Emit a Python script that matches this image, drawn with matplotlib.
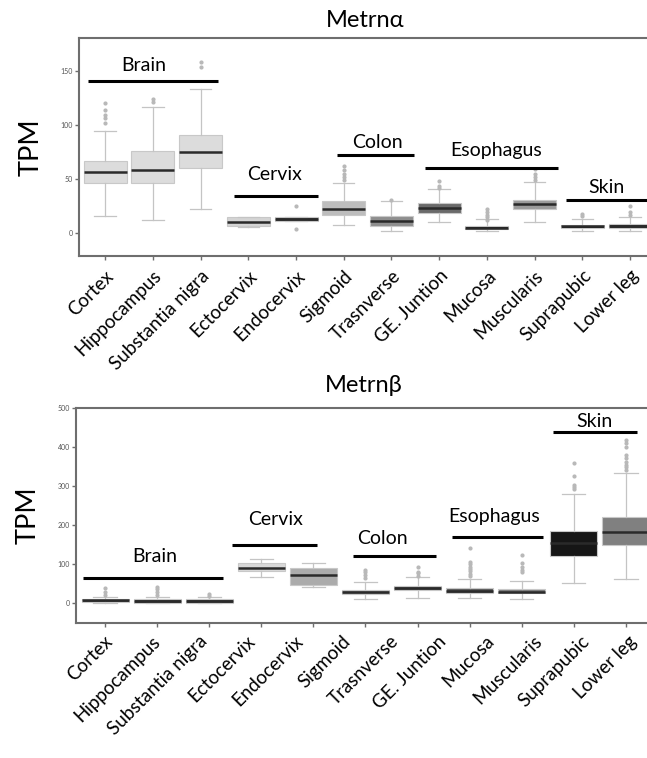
import matplotlib
matplotlib.use("Agg")
import matplotlib.pyplot as plt
import matplotlib.transforms as mtransforms

plt.rcParams['font.family'] = ['Lato', 'DejaVu Sans']

tissues = ["Cortex", "Hippocampus", "Substantia nigra", "Ectocervix", "Endocervix",
           "Sigmoid", "Trasnverse", "GE. Juntion", "Mucosa", "Muscularis",
           "Suprapubic", "Lower leg"]

# ---- Metrn alpha (12 boxes) ----
a_q1 = [46, 46, 60, 6.5, 11.5, 17, 6.5, 19, 4, 22, 4.6, 5]
a_med = [56, 58, 74.5, 10, 12.7, 22, 11, 23, 5, 26.5, 6.2, 7]
a_q3 = [67, 75.5, 90.5, 14.5, 14.5, 30, 15.5, 28, 6.5, 31, 8, 8.7]
a_lo = [15.5, 12.5, 22, 5.5, 11.5, 8, 2.5, 10.5, 2, 10, 2.5, 1.6]
a_hi = [94, 116, 133, 15, 14.5, 46, 30, 41, 13, 47, 13, 15]
a_fl = [[102, 106, 109, 113.5, 120], [121, 123.5], [153, 158], [], [4, 25],
        [49, 52, 55, 58, 62], [31], [42, 44, 48.5], [12, 15, 16.5, 19.5, 22.5],
        [49, 52, 55, 59.5], [15.5, 18], [16.5, 19.5, 25.5]]
a_fill = ["#dcdcdc", "#dcdcdc", "#dcdcdc", "#d4d4d4", "#3a3a3a", "#bdbdbd",
          "#8e8e8e", "#6a6a6a", "#141414", "#9a9a9a", "#141414", "#2e2e2e"]
a_groups = ["Brain", "Cervix", "Colon", "Esophagus", "Skin"]
a_gx0 = [-0.36, 2.70, 4.85, 6.70, 9.65]
a_gx1 = [2.36, 4.47, 6.47, 9.50, 11.45]
a_gy = [140.5, 34, 72.5, 60, 31]
a_tx = [0.80, 3.55, 5.70, 8.20, 10.50]
a_ty = [155, 54, 84, 76.5, 42]

# ---- Metrn beta (11 boxes) ----
b_q1 = [3, 2, 2, 82.5, 47, 23, 34, 25.5, 25.5, 122, 149]
b_med = [8, 6, 6, 89.5, 72, 28, 38, 31.5, 29.5, 153.5, 181.5]
b_q3 = [12, 10, 10, 102, 89.5, 34, 44, 38, 36, 185, 221.5]
b_lo = [0, 0, 0, 66.5, 41, 12, 13, 13, 10, 51, 61]
b_hi = [15, 15, 15, 113, 104, 54.5, 66.5, 62, 57, 280, 334]
b_fl = [[21, 30, 38], [22, 30, 36, 42], [20, 25], [], [],
        [66, 72, 81, 85], [70, 77, 81, 94], [70, 75, 82, 88, 94, 100, 106, 140.5],
        [81, 86, 94, 102, 123.5], [293, 298, 302.5, 326, 358],
        [342, 348, 354, 362, 371, 379, 400, 409, 417.5]]
b_fill = ["#3c3c3c", "#3c3c3c", "#3c3c3c", "#d8d8d8", "#ababab", "#8a8a8a",
          "#5a5a5a", "#5a5a5a", "#7a7a7a", "#161616", "#808080"]
b_groups = ["Brain", "Cervix", "Colon", "Esophagus", "Skin"]
b_gx0 = [-0.43, 2.44, 4.76, 6.67, 8.61]
b_gx1 = [2.26, 4.06, 6.36, 8.41, 10.21]
b_gy = [64, 149, 122, 169, 437]
b_tx = [0.95, 3.27, 5.32, 7.47, 9.40]
b_ty = [119, 213, 166, 221.5, 464]

spine_c = "#6e6e6e"
whisk_c = "#c4c4c4"


def make_stats(q1, med, q3, lo, hi, fl):
    return [dict(q1=a, med=m, q3=b, whislo=l, whishi=h, fliers=f)
            for a, m, b, l, h, f in zip(q1, med, q3, lo, hi, fl)]


def draw(ax, stats, fills, ylim, yticks):
    pos = list(range(len(stats)))
    bp = ax.bxp(stats, positions=pos, widths=0.9, patch_artist=True,
                capwidths=0.45,
                boxprops=dict(edgecolor="#c8c8c8", linewidth=0.8),
                medianprops=dict(color="#2a2a2a", linewidth=1.8),
                whiskerprops=dict(color=whisk_c, linewidth=0.9),
                capprops=dict(color=whisk_c, linewidth=0.9),
                flierprops=dict(marker="o", markersize=2.0,
                                markerfacecolor="#b8b8b8",
                                markeredgecolor="#b8b8b8"))
    for patch, c in zip(bp["boxes"], fills):
        patch.set_facecolor(c)
    ax.set_ylim(*ylim)
    ax.set_yticks(yticks)
    ax.set_xticks(pos)
    for s in ["left", "bottom", "top"]:
        ax.spines[s].set_color(spine_c)
        ax.spines[s].set_linewidth(1.5)
    ax.spines["right"].set_visible(False)
    ax.tick_params(axis="y", labelsize=5, labelcolor="#555555", length=3,
                   width=1.0, color=spine_c, pad=1.5)
    ax.tick_params(axis="x", length=3, width=1.0, color=spine_c, direction="out")
    ax.set_ylabel("TPM", fontsize=19.5, labelpad=12)


fig = plt.figure(figsize=(6.47, 7.58), dpi=100)
ax1 = fig.add_axes([0.122, 1 - 256 / 758, 0.885, (256 - 38) / 758])
ax2 = fig.add_axes([0.1175, 1 - 623.3 / 758, 0.89, (623.3 - 407.7) / 758])

draw(ax1, make_stats(a_q1, a_med, a_q3, a_lo, a_hi, a_fl), a_fill,
     (-21, 180), [0, 50, 100, 150])
ax1.set_xlim(-0.55, 11.45)
ax1.set_xticklabels(tissues, rotation=45, ha="right", rotation_mode="anchor",
                    fontsize=13.5)
ax1.tick_params(axis="x", pad=5)
ax1.set_title("Metrn\u03b1", fontsize=17, pad=8)
for g, x0, x1, y, tx, ty in zip(a_groups, a_gx0, a_gx1, a_gy, a_tx, a_ty):
    ax1.plot([x0, x1], [y, y], color="black", lw=2.2, solid_capstyle="butt",
             clip_on=False)
    ax1.text(tx, ty, g, ha="center", va="center", fontsize=14)

draw(ax2, make_stats(b_q1, b_med, b_q3, b_lo, b_hi, b_fl), b_fill,
     (-51, 500), [0, 100, 200, 300, 400, 500])
ax2.set_xlim(-0.56, 10.5)
ax2.set_xticklabels([])
ax2.set_title("Metrn\u03b2", fontsize=17, pad=11)
for g, x0, x1, y, tx, ty in zip(b_groups, b_gx0, b_gx1, b_gy, b_tx, b_ty):
    ax2.plot([x0, x1], [y, y], color="black", lw=2.2, solid_capstyle="butt",
             clip_on=False)
    ax2.text(tx, ty, g, ha="center", va="center", fontsize=14)

# bottom panel labels reuse the top panel's label positions (as in the source figure)
trans = mtransforms.blended_transform_factory(ax1.transData, ax2.transAxes)
off = mtransforms.ScaledTranslation(3 / 72, -11 / 72, fig.dpi_scale_trans)
for i, name in enumerate(tissues):
    ax2.text(i, 0, name, transform=trans + off, rotation=45, ha="right",
             va="center", rotation_mode="anchor", fontsize=13.5)

fig.savefig("out.png", dpi=100)
